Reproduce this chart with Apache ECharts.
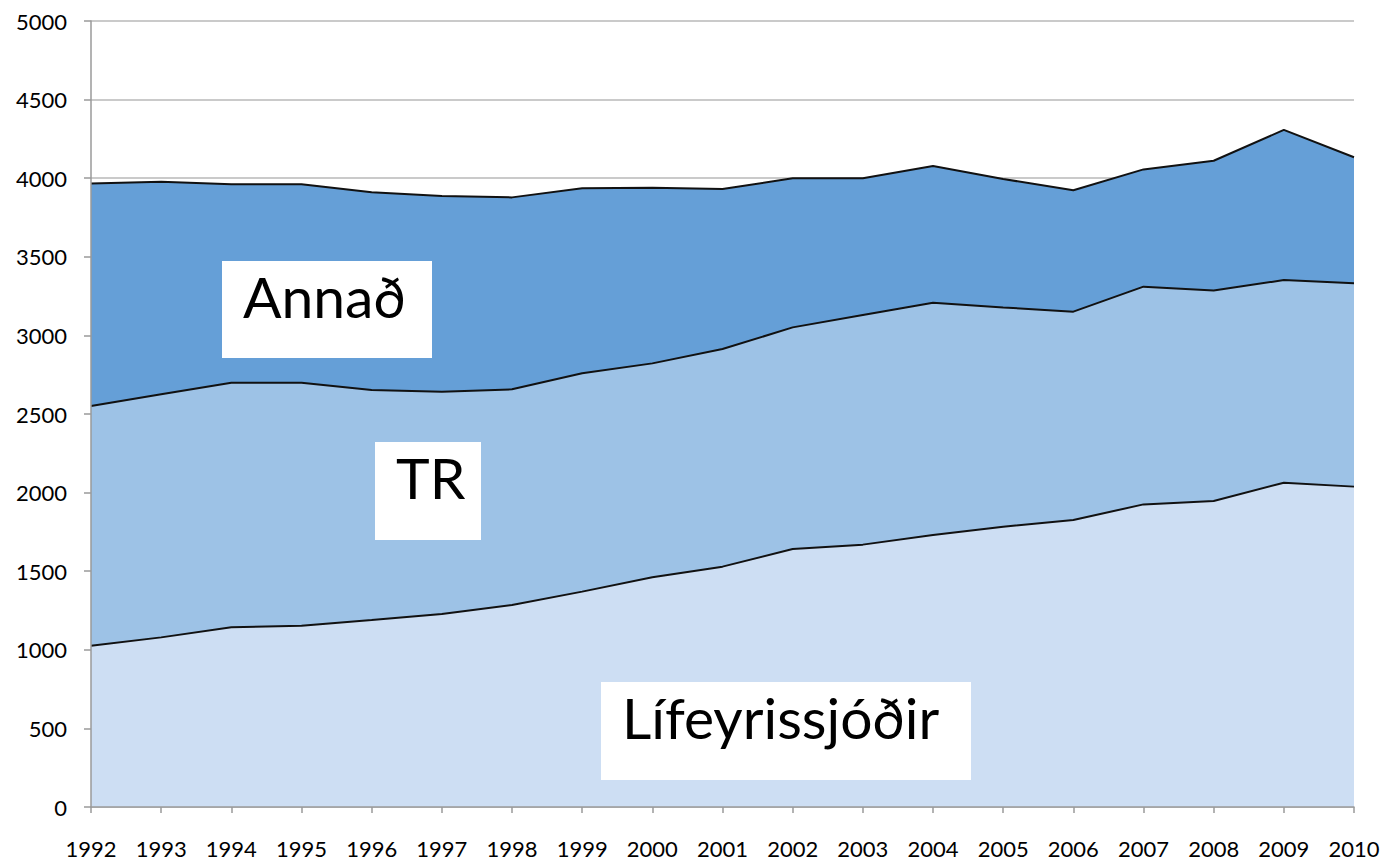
<!DOCTYPE html>
<html>
<head>
<meta charset="utf-8">
<script src="https://cdn.jsdelivr.net/npm/echarts@6/dist/echarts.min.js"></script>
<style>
html,body{margin:0;padding:0;background:#fff;}
#chart{width:1384px;height:861px;}
</style>
</head>
<body>
<div id="chart"></div>
<script>
const years = ['1992','1993','1994','1995','1996','1997','1998','1999','2000','2001','2002','2003','2004','2005','2006','2007','2008','2009','2010'];
const lifeyrissjodir = [1026,1079,1143,1153,1190,1228,1285,1370,1461,1529,1641,1669,1730,1783,1826,1925,1947,2063,2038];
const tr = [1525,1546,1556,1546,1463,1414,1372,1389,1361,1384,1410,1461,1478,1395,1325,1385,1338,1289,1293];
const annad = [1416,1353,1262,1262,1257,1245,1221,1177,1118,1018,948,869,870,817,772,746,826,955,802];
const seriesNames = ['Lífeyrissjóðir','TR','Annað'];
const seriesColors = ['#cddef3','#9dc2e6','#659fd7'];
const yMin = 0, yMax = 5000, yStep = 500;

const chart = echarts.init(document.getElementById('chart'), null, {renderer:'svg'});
const font = 'Lato';
const mkSeries = (name, data, color) => ({
  name, type:'line', stack:'total', data, symbol:'none', smooth:false,
  lineStyle:{color:'#111', width:2},
  areaStyle:{color, opacity:1},
  emphasis:{disabled:true}, z:2
});
const box = (x, y, w, h, text) => ([
  {type:'rect', z:100, shape:{x:x, y:y, width:w, height:h}, style:{fill:'#ffffff'}},
  {type:'text', z:101, x:x+21, y:y+35, style:{text:text, fontFamily:font, fontSize:57, fill:'#000', align:'left', verticalAlign:'middle'}}
]);
chart.setOption({
  animation:false,
  grid:{left:91, right:30, top:21, bottom:54, containLabel:false},
  xAxis:[
    {type:'category', data:years, boundaryGap:false, axisLine:{show:false}, axisTick:{show:false}, axisLabel:{show:false}, splitLine:{show:false}},
    {type:'category', data:years, boundaryGap:false, position:'bottom', z:10,
     axisLine:{show:true, lineStyle:{color:'#9a9a9a', width:1.5}},
     axisTick:{show:true, inside:false, length:6, alignWithLabel:true, lineStyle:{color:'#9a9a9a', width:1.5}},
     axisLabel:{show:true, margin:30, color:'#000', fontFamily:font, fontSize:22, interval:0},
     splitLine:{show:false}}
  ],
  yAxis:[
    {type:'value', min:yMin, max:yMax, interval:yStep, axisLine:{show:false}, axisTick:{show:false}, axisLabel:{show:false},
     splitLine:{show:true, lineStyle:{color:'#b8b8b8', width:1.5}}},
    {type:'value', min:yMin, max:yMax, interval:yStep, position:'left', z:10,
     axisLine:{show:true, lineStyle:{color:'#9a9a9a', width:1.5}},
     axisTick:{show:true, inside:false, length:7, lineStyle:{color:'#9a9a9a', width:1.5}},
     axisLabel:{show:true, margin:24, color:'#000', fontFamily:font, fontSize:22, padding:[5,0,0,0], formatter:v => String(v)},
     splitLine:{show:false}}
  ],
  series:[
    mkSeries(seriesNames[0], lifeyrissjodir, seriesColors[0]),
    mkSeries(seriesNames[1], tr, seriesColors[1]),
    mkSeries(seriesNames[2], annad, seriesColors[2])
  ],
  graphic:{elements:[].concat(
    box(222, 261, 210, 97, seriesNames[2]),
    box(375, 442, 106, 98, seriesNames[1]),
    box(601, 682, 370, 98, seriesNames[0])
  )}
});
</script>
</body>
</html>
